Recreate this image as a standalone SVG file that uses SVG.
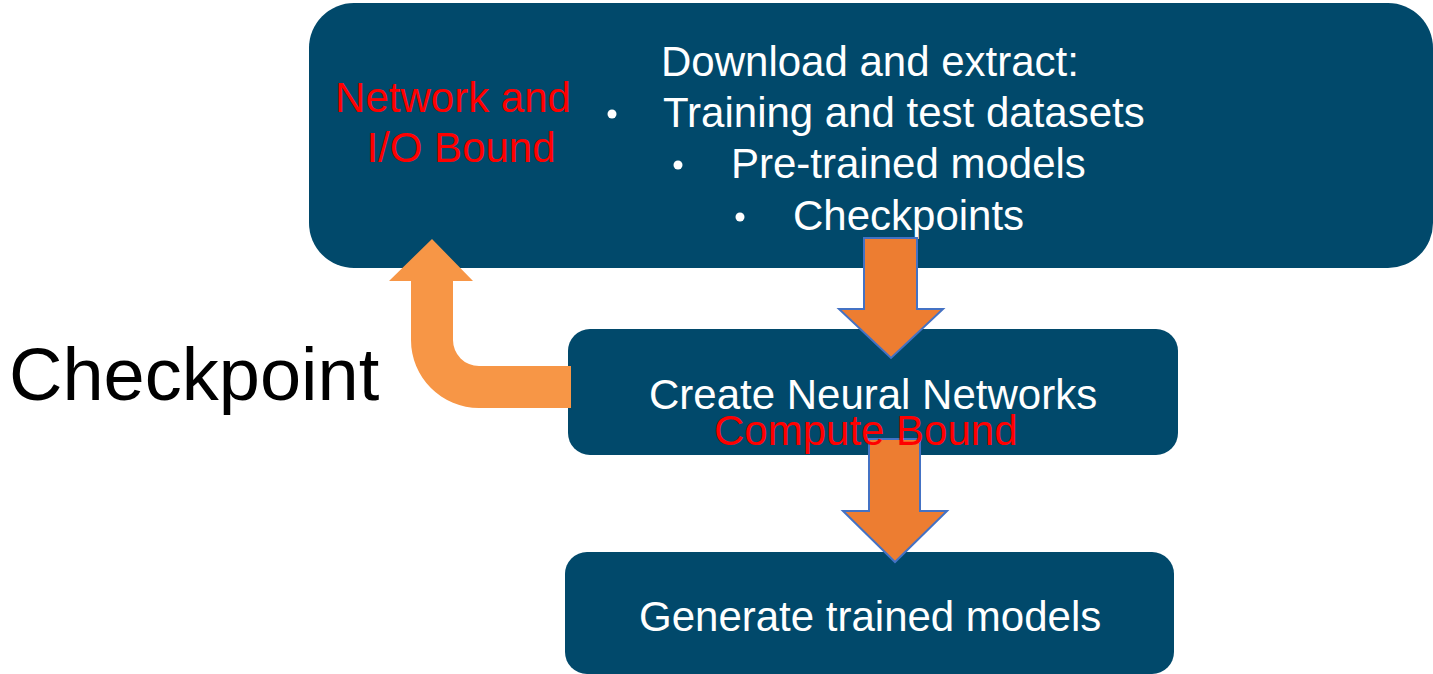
<svg xmlns="http://www.w3.org/2000/svg" width="1433" height="674" viewBox="0 0 1433 674">
  <style>
    .box { fill: #01496B; }
    .lbl { font-family: "Liberation Sans", Arial, sans-serif; font-size: 42px; fill: #ffffff; }
    .note { font-family: "Liberation Sans", Arial, sans-serif; font-size: 42px; fill: #ff0000; }
    .big { font-family: "Liberation Sans", Arial, sans-serif; font-size: 74px; fill: #000000; }
    .flow { fill: #ED7D31; stroke: #4472C4; stroke-width: 2; stroke-linejoin: miter; }
    .loop { fill: #F79646; }
    .dot { fill: #ffffff; }
  </style>
  <rect width="1433" height="674" fill="#ffffff"/>

  <!-- Download stage -->
  <g id="download">
    <rect class="box" x="309" y="3" width="1124" height="265" rx="45"/>
    <text class="lbl" x="661" y="76">Download and extract:</text>
    <circle class="dot" cx="612" cy="114" r="4.5"/>
    <text class="lbl" x="663" y="127">Training and test datasets</text>
    <circle class="dot" cx="678" cy="165" r="4.5"/>
    <text class="lbl" x="731" y="178">Pre-trained models</text>
    <circle class="dot" cx="740" cy="217" r="4.5"/>
    <text class="lbl" x="793" y="230">Checkpoints</text>
  </g>

  <!-- Network creation stage -->
  <g id="create">
    <rect class="box" x="568" y="329" width="610" height="126" rx="22"/>
    <text class="lbl" x="649" y="409">Create Neural Networks</text>
  </g>

  <!-- Output stage -->
  <g id="generate">
    <rect class="box" x="565" y="552" width="609" height="122" rx="22"/>
    <text class="lbl" x="639" y="631">Generate trained models</text>
  </g>

  <!-- Flow arrows -->
  <g id="connectors">
    <polygon class="flow" points="864,238 917,238 917,309 943,309 891,358 839,309 864,309"/>
    <polygon class="flow" points="869,439 920,439 920,511 947,511 895,562 843,511 869,511"/>
    <path class="loop" d="M432,239 L473,281 L453,281 L453,340 A26,26 0 0 0 479,366 L571,366 L571,408 L479,408 A68,68 0 0 1 411,340 L411,281 L389,281 Z"/>
  </g>

  <!-- Annotations -->
  <g id="io-bound">
    <text class="note" x="453" y="112" text-anchor="middle">Network and</text>
    <text class="note" x="461" y="162" text-anchor="middle">I/O Bound</text>
  </g>
  <g id="compute-bound">
    <text class="note" x="714" y="445">Compute Bound</text>
  </g>
  <g id="checkpoint">
    <text class="big" x="9" y="400">Checkpoint</text>
  </g>
</svg>
